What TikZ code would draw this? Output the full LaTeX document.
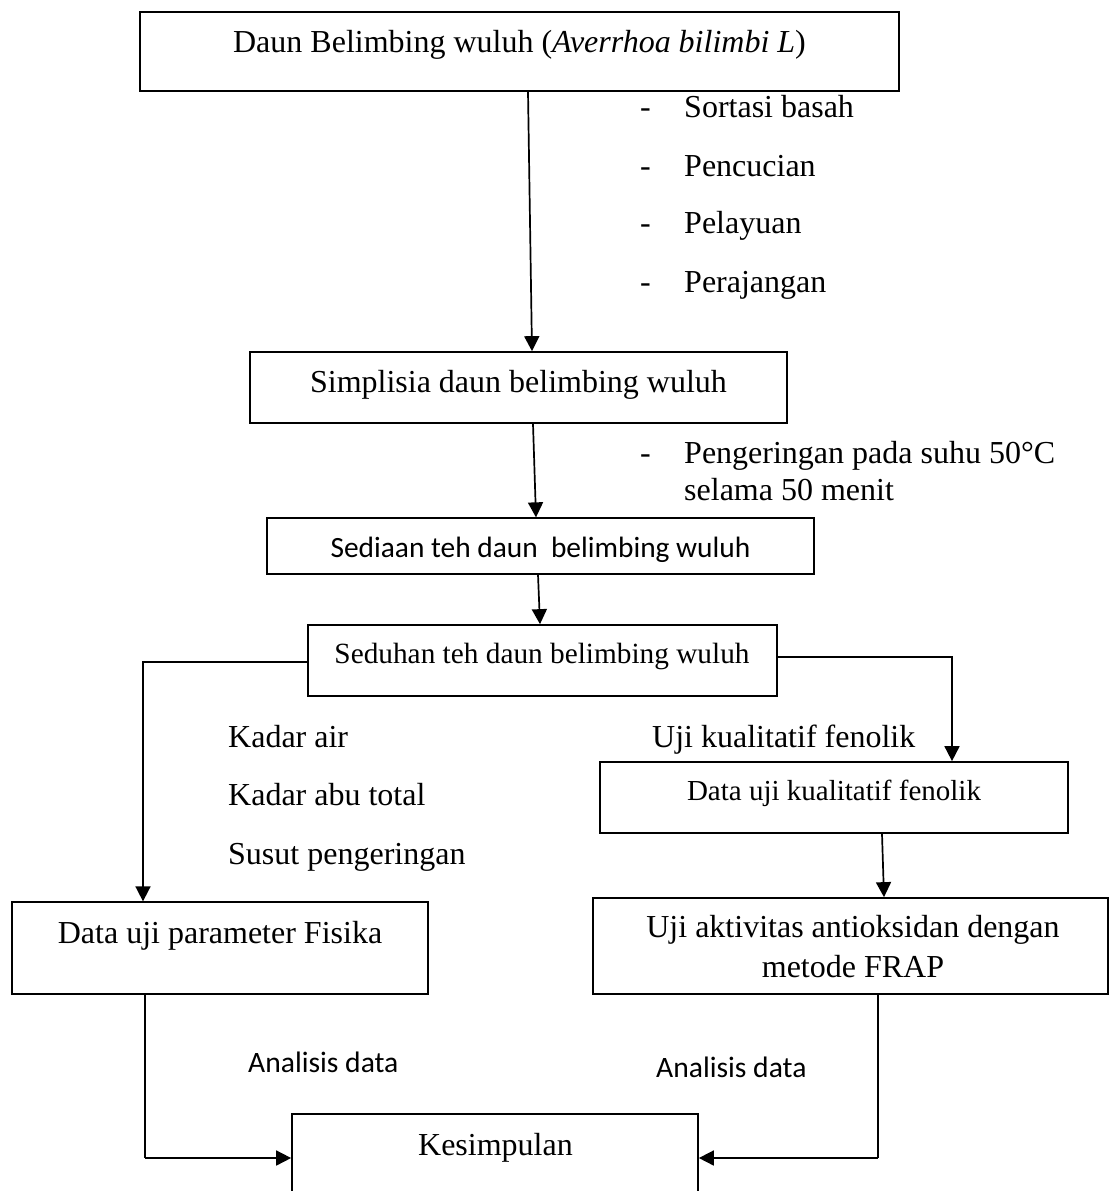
\documentclass[tikz,border=0pt]{standalone}
\usepackage{fontspec}
\setmainfont{Liberation Serif}
\newfontfamily\calib{Carlito}
\usetikzlibrary{arrows.meta}
\tikzset{
  box/.style={draw, line width=1.7pt, rectangle, inner sep=0pt},
  txt/.style={inner sep=0pt, anchor=base, font=\fontsize{32}{38}\selectfont},
  midtxt/.style={inner sep=0pt, anchor=base, font=\fontsize{29.3}{35}\selectfont},
  smalltxt/.style={inner sep=0pt, anchor=base, font=\fontsize{29}{35}\selectfont},
  lbl/.style={inner sep=0pt, anchor=base west, font=\fontsize{32}{38}\selectfont},
  clb/.style={inner sep=0pt, anchor=base, font=\calib\fontsize{29.4}{35}\selectfont},
  clbw/.style={inner sep=0pt, anchor=base west, font=\calib\fontsize{29.6}{35}\selectfont},
  conn/.style={line width=1.7pt, -{Triangle[length=15pt,width=15pt]}},
  thinconn/.style={line width=1.1pt},
}
\begin{document}
\begin{tikzpicture}[x=1pt,y=-1pt]
\useasboundingbox (0,0) rectangle (1110,1191);
\clip (0,0) rectangle (1110,1191);
% boxes
\node[box, minimum width=759pt, minimum height=79pt] (b1) at (519.5,51.5) {};
\node[box, minimum width=537pt, minimum height=71pt] (b2) at (518.5,387.5) {};
\node[box, minimum width=547pt, minimum height=56pt, line width=1.3pt] (b3) at (540.5,546) {};
\node[box, minimum width=469pt, minimum height=71pt] (b4) at (542.5,660.5) {};
\node[box, minimum width=468pt, minimum height=71pt] (b5) at (834,797.5) {};
\node[box, minimum width=416pt, minimum height=92pt, line width=1.3pt] (b6) at (220,948) {};
\node[box, minimum width=515pt, minimum height=96pt] (b7) at (850.5,946) {};
\node[box, minimum width=406pt, minimum height=96pt] (b8) at (495,1162) {};
% box texts
\node[txt] (t1) at (519.5,52) {Daun Belimbing wuluh (\textit{Averrhoa bilimbi L})};
\node[txt] (t2) at (518.5,392) {Simplisia daun belimbing wuluh};
\node[clb] (t3) at (540.5,557) {Sediaan teh daun\ \ belimbing wuluh};
\node[midtxt] (t4) at (542,663) {Seduhan teh daun belimbing wuluh};
\node[smalltxt] (t5) at (834,800) {Data uji kualitatif fenolik};
\node[txt] (t6) at (220,943) {Data uji parameter Fisika};
\node[txt] (t7a) at (853,937) {Uji aktivitas antioksidan dengan};
\node[txt] (t7b) at (853,977) {metode FRAP};
\node[txt] (t8) at (495.5,1155) {Kesimpulan};
% side labels
\node[lbl] (d1) at (640,117) {-};
\node[lbl] (d2) at (640,176) {-};
\node[lbl] (d3) at (640,233) {-};
\node[lbl] (d4) at (640,292) {-};
\node[lbl] (d5) at (640,463) {-};
\node[lbl] (s1) at (684,117) {Sortasi basah};
\node[lbl] (s2) at (684,176) {Pencucian};
\node[lbl] (s3) at (684,233) {Pelayuan};
\node[lbl] (s4) at (684,292) {Perajangan};
\node[lbl] (s5) at (684,463) {Pengeringan pada suhu 50°C};
\node[lbl] (s6) at (684,500) {selama 50 menit};
\node[lbl] (k1) at (228,747) {Kadar air};
\node[lbl] (k2) at (228,805) {Kadar abu total};
\node[lbl] (k3) at (228,864) {Susut pengeringan};
\node[lbl] (u1) at (652,747) {Uji kualitatif fenolik};
\node[clbw] (an1) at (248,1072) {Analisis data};
\node[clbw] (an2) at (656,1077) {Analisis data};
% connectors
\draw[conn] ([xshift=8.5pt]b1.south) -- ([xshift=13.5pt]b2.north);
\draw[conn] ([xshift=14.5pt]b2.south) -- ([xshift=-4.5pt]b3.north);
\draw[conn] ([xshift=-2.5pt]b3.south) -- ([xshift=-2.5pt]b4.north);
\draw[conn] ([yshift=-1.5pt]b4.west) -| ([xshift=-77pt]b6.north);
\draw[conn] ([yshift=3.5pt]b4.east) -| ([xshift=118pt]b5.north);
\draw[conn] ([xshift=48pt]b5.south) -- ([xshift=33.5pt]b7.north);
\coordinate (kl) at ([yshift=4pt]b8.west);
\coordinate (kr) at ([yshift=4pt]b8.east);
\draw[thinconn] ([xshift=-75pt]b6.south) -- ([xshift=-75pt]b6.south |- kl);
\draw[conn] ([xshift=-75pt]b6.south |- kl) -- (kl);
\draw[thinconn] ([xshift=27.5pt]b7.south) -- ([xshift=27.5pt]b7.south |- kr);
\draw[conn] ([xshift=27.5pt]b7.south |- kr) -- (kr);
\end{tikzpicture}
\end{document}
